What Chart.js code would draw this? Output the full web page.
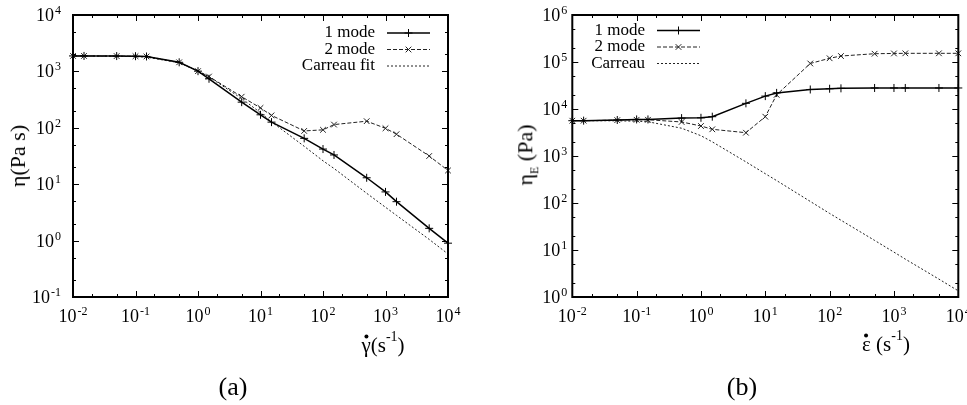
<!DOCTYPE html>
<html>
<head>
<meta charset="utf-8">
<script src="https://cdn.jsdelivr.net/npm/chart.js@4.4.1/dist/chart.umd.min.js"></script>
<style>
  body { margin: 0; background: #fff; }
  #wrap { position: relative; width: 967px; height: 405px; overflow: hidden; font-family: "Liberation Serif", serif; color: #000; }
  canvas { position: absolute; top: 0; }
  #chartA { left: 0; }
  #chartB { left: 480px; }
  .lbl { position: absolute; transform: translate(-50%, -50%); white-space: nowrap; font-size: 21px; line-height: 1; }
  .rot { transform: translate(-50%, -50%) rotate(-90deg); font-size: 22px; }
  .cap { font-size: 26px; }
  .lbl sup { font-size: 14px; position: relative; top: -3px; }
  .lbl sub { font-size: 12px; position: relative; top: 1px; }
  .dotted { position: relative; display: inline-block; }
  .dotted::before { content: ""; position: absolute; left: 50%; top: 0px; width: 4px; height: 4px; margin-left: -2px; border-radius: 50%; background: #000; }
</style>
</head>
<body>
<div id="wrap">
  <canvas id="chartA" width="480" height="405"></canvas>
  <canvas id="chartB" width="487" height="405"></canvas>
  <div class="lbl rot" style="left:18px; top:156px;">η(Pa s)</div>
  <div class="lbl rot" style="left:527px; top:155px;">η<sub>E</sub> (Pa)</div>
  <div class="lbl" style="left:383px; top:344px;"><span class="dotted">γ</span>(s<sup>-1</sup>)</div>
  <div class="lbl" style="left:886px; top:343px;"><span class="dotted">ε</span> (s<sup>-1</sup>)</div>
  <div class="lbl cap" style="left:233px; top:387px;">(a)</div>
  <div class="lbl cap" style="left:742px; top:387px;">(b)</div>
</div>
<script>
// strain / shear rates, same grid for every curve
const rates = [0.01, 0.015, 0.05, 0.1, 0.15, 0.5, 1, 1.5, 5, 10, 15, 50, 100, 150, 500, 1000, 1500, 5000, 10000];

// (a) shear viscosity
const shear1Mode = [1880, 1880, 1870, 1860, 1840, 1450, 1010, 740, 285, 170, 126, 65, 42, 33, 13, 7.3, 4.9, 1.65, 0.9];
const shear2Mode = [1880, 1880, 1870, 1860, 1840, 1450, 1010, 810, 356, 225, 166, 88, 92, 114, 131, 98, 77, 31.6, 17.5];
const shearCarreau = [1880, 1880, 1860, 1830, 1790, 1420, 1020, 800, 330, 185, 128, 47, 26, 19, 6.9, 3.9, 2.8, 1.05, 0.58];

// (b) extensional viscosity
const ext1Mode = [5640, 5650, 5830, 6000, 6000, 6400, 6500, 6860, 13200, 18800, 22000, 26000, 27000, 27500, 28000, 28000, 28000, 28000, 28000];
const ext2Mode = [5640, 5640, 5800, 5900, 5900, 5300, 4350, 3700, 3130, 6860, 20000, 93000, 120000, 134000, 150000, 152000, 153000, 153000, 153000];
const extCarreau = [5640, 5640, 5600, 5500, 5350, 3900, 2700, 2000, 750, 420, 300, 108, 60, 43, 16, 9, 6.4, 2.4, 1.35];

const legendA = ["1 mode", "2 mode", "Carreau fit"];
const legendB = ["1 mode", "2 mode", "Carreau"];

// tick labels are written base^exponent
const xTicks = [0.01, 0.1, 1, 10, 100, 1000, 10000];
const xTickLabels = ["10^-2", "10^-1", "10^0", "10^1", "10^2", "10^3", "10^4"];
const yTicksA = [0.1, 1, 10, 100, 1000, 10000];
const yTickLabelsA = ["10^-1", "10^0", "10^1", "10^2", "10^3", "10^4"];
const yTicksB = [1, 10, 100, 1000, 10000, 100000, 1000000];
const yTickLabelsB = ["10^0", "10^1", "10^2", "10^3", "10^4", "10^5", "10^6"];
const minorSteps = [2, 5];

const baseFont = '18px "Liberation Serif"';
const expFont = '12px "Liberation Serif"';

function drawPower(ctx, label, x, y, align) {
  const [base, exp] = label.split("^");
  ctx.font = baseFont;
  const wb = ctx.measureText(base).width;
  ctx.font = expFont;
  const we = ctx.measureText(exp).width;
  const total = wb + we + 1;
  const left = align === "center" ? x - total / 2 : x - total;
  ctx.textAlign = "left";
  ctx.textBaseline = "alphabetic";
  ctx.font = baseFont;
  ctx.fillText(base, left, y + 6);
  ctx.font = expFont;
  ctx.fillText(exp, left + wb + 1, y - 1);
}

// gnuplot style box with inward ticks on all four sides, plus the power-of-ten labels
const frameTicks = {
  id: "frameTicks",
  afterDatasetsDraw(chart, args, opts) {
    const { ctx, chartArea: a, scales: { x, y } } = chart;
    ctx.save();
    ctx.strokeStyle = "#000";
    ctx.lineWidth = 1;
    ctx.beginPath();
    const xMarks = [], yMarks = [];
    x.ticks.forEach(t => {
      xMarks.push([t.value, 6]);
      minorSteps.forEach(m => { if (t.value * m < x.max) xMarks.push([t.value * m, 3]); });
    });
    y.ticks.forEach(t => {
      yMarks.push([t.value, 6]);
      minorSteps.forEach(m => { if (t.value * m < y.max) yMarks.push([t.value * m, 3]); });
    });
    xMarks.forEach(([v, len]) => {
      const px = Math.round(x.getPixelForValue(v)) + 0.5;
      ctx.moveTo(px, a.bottom); ctx.lineTo(px, a.bottom - len);
      ctx.moveTo(px, a.top); ctx.lineTo(px, a.top + len);
    });
    yMarks.forEach(([v, len]) => {
      const py = Math.round(y.getPixelForValue(v)) + 0.5;
      ctx.moveTo(a.left, py); ctx.lineTo(a.left + len, py);
      ctx.moveTo(a.right, py); ctx.lineTo(a.right - len, py);
    });
    ctx.stroke();
    ctx.lineWidth = 2;
    ctx.strokeRect(a.left, a.top, a.right - a.left, a.bottom - a.top);

    ctx.fillStyle = "#000";
    x.ticks.forEach((t, i) => drawPower(ctx, xTickLabels[i], x.getPixelForValue(t.value), a.bottom + 19, "center"));
    y.ticks.forEach((t, i) => drawPower(ctx, opts.yLabels[i], a.left - opts.yPad, y.getPixelForValue(t.value), "right"));
    ctx.restore();
  }
};

// legend: text right aligned, then a line sample with the marker
const gnuLegend = {
  id: "gnuLegend",
  afterDatasetsDraw(chart, args, opts) {
    const ctx = chart.ctx;
    ctx.save();
    ctx.font = '17px "Liberation Serif"';
    ctx.fillStyle = "#000";
    ctx.textAlign = "right";
    ctx.textBaseline = "middle";
    chart.data.datasets.forEach((ds, i) => {
      const y = opts.y0 + i * opts.dy;
      ctx.fillText(ds.label, opts.textX, y);
      ctx.strokeStyle = ds.borderColor;
      ctx.lineWidth = ds.borderWidth;
      ctx.setLineDash(ds.borderDash || []);
      ctx.beginPath();
      ctx.moveTo(opts.x0, y);
      ctx.lineTo(opts.x1, y);
      ctx.stroke();
      ctx.setLineDash([]);
      if (ds.pointRadius) {
        ctx.lineWidth = 1;
        Chart.helpers.drawPoint(ctx, { pointStyle: ds.pointStyle, radius: ds.pointRadius, borderWidth: 1, rotation: 0 }, (opts.x0 + opts.x1) / 2, y);
      }
    });
    ctx.restore();
  }
};

function makeSets(labels, d1, d2, d3) {
  return [
    { label: labels[0], data: rates.map((x, i) => ({ x, y: d1[i] })), borderColor: "#000", borderWidth: 1.5,
      pointStyle: "cross", pointRadius: 4, pointBorderWidth: 1, pointBorderColor: "#000", tension: 0, clip: 6 },
    { label: labels[1], data: rates.map((x, i) => ({ x, y: d2[i] })), borderColor: "#222", borderWidth: 1, borderDash: [4, 2],
      pointStyle: "crossRot", pointRadius: 4, pointBorderWidth: 1, pointBorderColor: "#222", tension: 0, clip: 6 },
    { label: labels[2], data: rates.map((x, i) => ({ x, y: d3[i] })), borderColor: "#222", borderWidth: 1, borderDash: [2, 2],
      pointRadius: 0, tension: 0, clip: 6 }
  ];
}

function makeOptions(c) {
  return {
    responsive: false,
    animation: false,
    events: [],
    layout: { padding: { top: 15, right: c.padRight, left: 0, bottom: 0 } },
    plugins: {
      legend: { display: false }, tooltip: { enabled: false },
      gnuLegend: c.legend,
      frameTicks: { yLabels: c.yLabels, yPad: c.yPad }
    },
    scales: {
      x: {
        type: "logarithmic", min: 0.01, max: 10000,
        grid: { display: false, drawTicks: false }, border: { display: false },
        ticks: { display: false },
        afterBuildTicks: s => { s.ticks = xTicks.map(v => ({ value: v })); },
        afterFit: s => { s.height = 108; s.paddingLeft = 0; s.paddingRight = 0; }
      },
      y: {
        type: "logarithmic", min: c.yTicks[0], max: c.yTicks[c.yTicks.length - 1],
        grid: { display: false, drawTicks: false }, border: { display: false },
        ticks: { display: false },
        afterBuildTicks: s => { s.ticks = c.yTicks.map(v => ({ value: v })); },
        afterFit: s => { s.width = c.yWidth; s.paddingTop = 0; s.paddingBottom = 0; }
      }
    }
  };
}

new Chart(document.getElementById("chartA"), {
  type: "line",
  data: { datasets: makeSets(legendA, shear1Mode, shear2Mode, shearCarreau) },
  options: makeOptions({ padRight: 32, yWidth: 73, yPad: 12, yTicks: yTicksA, yLabels: yTickLabelsA,
                         legend: { textX: 375, x0: 387, x1: 430, y0: 33, dy: 16.5 } }),
  plugins: [frameTicks, gnuLegend]
});

new Chart(document.getElementById("chartB"), {
  type: "line",
  data: { datasets: makeSets(legendB, ext1Mode, ext2Mode, extCarreau) },
  options: makeOptions({ padRight: 8.7, yWidth: 92.3, yPad: 5, yTicks: yTicksB, yLabels: yTickLabelsB,
                         legend: { textX: 165, x0: 177, x1: 220, y0: 30.5, dy: 16.5 } }),
  plugins: [frameTicks, gnuLegend]
});
</script>
</body>
</html>
